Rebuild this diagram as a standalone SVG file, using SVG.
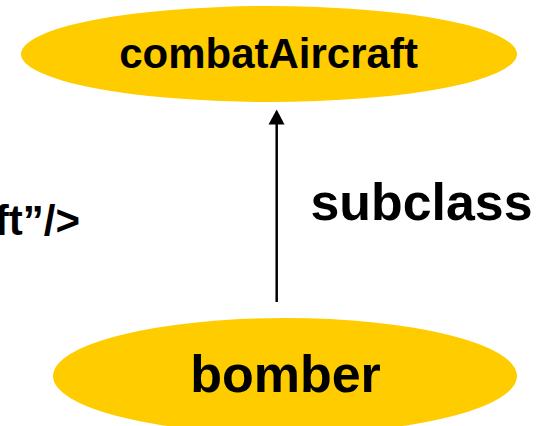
<svg xmlns="http://www.w3.org/2000/svg" width="548" height="426" viewBox="0 0 548 426">
<style>
.node{fill:#FFCC00;stroke:none}
.t{font-family:"Liberation Sans",Arial,sans-serif;font-weight:bold;fill:#000}
.edge{stroke:#000;stroke-width:2.5;fill:none}
</style>
<rect width="548" height="426" fill="#fff"/>
<g id="combatAircraft">
<ellipse class="node" cx="269" cy="54" rx="248" ry="48"/>
<text class="t" x="268.5" y="67.5" font-size="42" text-anchor="middle">combatAircraft</text>
</g>
<g id="bomber">
<ellipse class="node" cx="285" cy="376" rx="232" ry="58"/>
<text class="t" x="285.5" y="391.5" font-size="52" text-anchor="middle">bomber</text>
</g>
<g id="connectors">
<line class="edge" x1="276.7" y1="302" x2="276.7" y2="124"/>
<path d="M268.5,124.5 L276.7,109.5 L284.5,124.5 Z" fill="#000"/>
</g>
<g id="labels">
<text class="t" x="310.5" y="220" font-size="52" textLength="222" lengthAdjust="spacingAndGlyphs">subclass</text>
<text class="t" x="80" y="235" font-size="42" text-anchor="end">ft”/&gt;</text>
</g>
</svg>
